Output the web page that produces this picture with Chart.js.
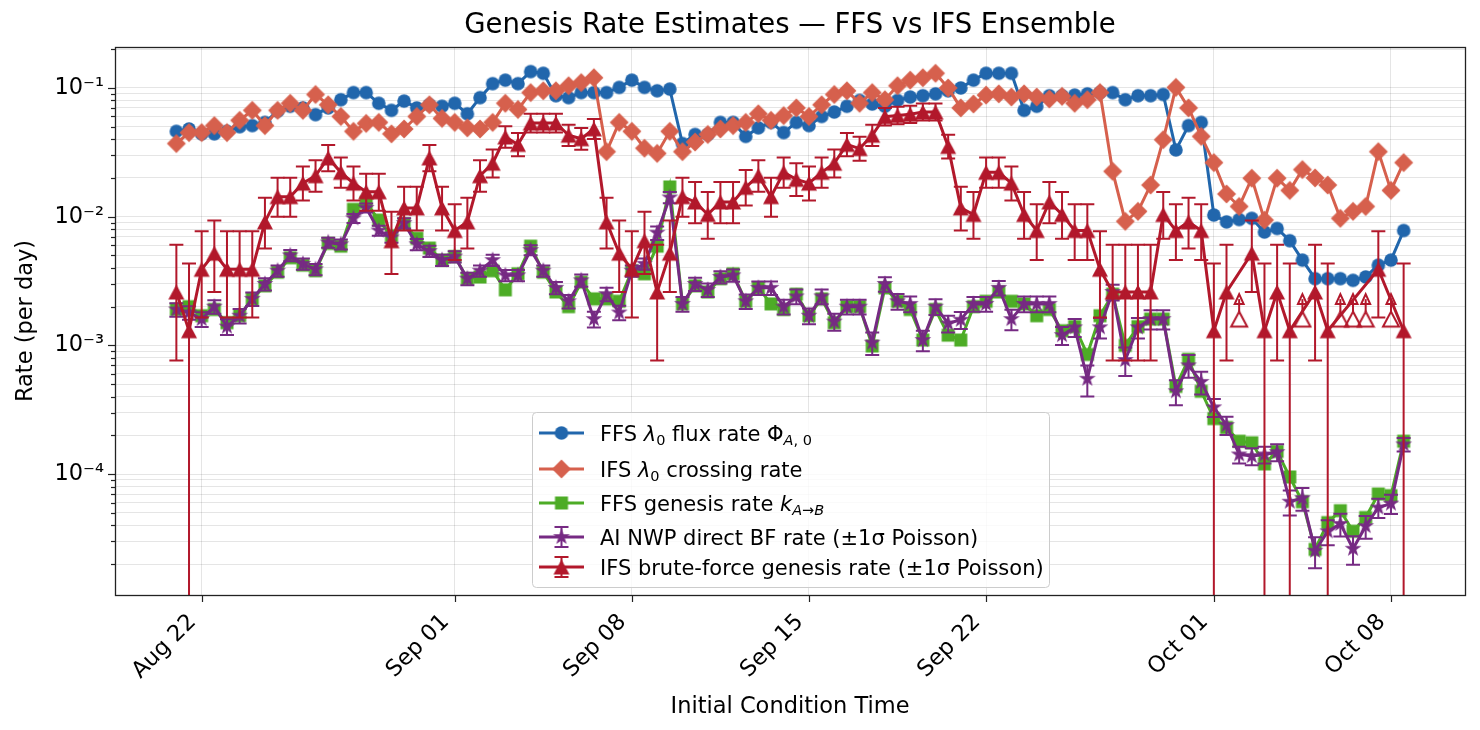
<!DOCTYPE html>
<html><head><meta charset="utf-8">
<script src="https://cdn.jsdelivr.net/npm/chart.js@4.4.1/dist/chart.umd.min.js"></script>
<style>html,body{margin:0;padding:0;background:#fff;}canvas{display:block;}</style>
</head><body>
<canvas id="c" width="1480" height="730"></canvas>
<script>
// ---- data (12-hourly initial conditions, days since Aug 21 00Z) ----
const initDays = Array.from({length: 98}, (_, i) => i * 0.5);
const xTickDays = [1, 11, 18, 25, 32, 41, 48];
const xTickLabels = ['Aug 22', 'Sep 01', 'Sep 08', 'Sep 15', 'Sep 22', 'Oct 01', 'Oct 08'];
const yMajorTicks = [1e-4, 1e-3, 1e-2, 1e-1];
const yMajorLabels = ['10⁻⁴', '10⁻³', '10⁻²', '10⁻¹'];

const ffsFlux = [0.046,0.048,0.044,0.044,0.046,0.05,0.051,0.054,0.066,0.072,0.07,0.062,0.07,0.081,
 0.092,0.092,0.076,0.067,0.079,0.07,0.074,0.072,0.076,0.063,0.084,0.108,0.115,0.108,
 0.134,0.13,0.087,0.084,0.092,0.092,0.092,0.101,0.115,0.101,0.095,0.098,0.037,0.0435,
 0.0435,0.054,0.054,0.042,0.049,0.054,0.045,0.054,0.051,0.06,0.065,0.072,0.08,0.075,
 0.072,0.08,0.085,0.087,0.09,0.095,0.1,0.115,0.13,0.13,0.13,0.067,0.072,0.087,
 0.087,0.088,0.09,0.092,0.092,0.081,0.087,0.087,0.089,0.033,0.051,0.054,0.0103,0.0091,
 0.0095,0.0097,0.0076,0.0081,0.0065,0.0046,0.0033,0.0033,0.0033,0.0032,0.0034,0.0042,0.0046,0.0078];

const ifsCross = [0.037,0.045,0.045,0.051,0.045,0.056,0.067,0.051,0.067,0.076,0.067,0.089,0.074,0.06,
 0.046,0.053,0.054,0.044,0.048,0.06,0.074,0.058,0.054,0.049,0.048,0.054,0.076,0.068,
 0.092,0.095,0.095,0.104,0.11,0.12,0.032,0.054,0.046,0.034,0.031,0.046,0.032,0.038,
 0.0435,0.048,0.051,0.054,0.063,0.056,0.061,0.07,0.06,0.074,0.089,0.095,0.076,0.092,
 0.081,0.104,0.115,0.12,0.13,0.1,0.07,0.075,0.088,0.09,0.085,0.09,0.085,0.082,
 0.086,0.076,0.081,0.092,0.0225,0.0092,0.011,0.0176,0.0396,0.101,0.07,0.042,0.0263,0.015,
 0.012,0.0199,0.0094,0.0199,0.016,0.0232,0.02,0.0176,0.0097,0.011,0.012,0.032,0.016,0.0263];

const ffsGenesis = [0.0019,0.0020,0.0017,0.0019,0.0015,0.0017,0.0023,0.0029,0.0037,0.0048,0.0042,0.0038,0.0062,0.0059,
 0.0114,0.0129,0.0094,0.0071,0.0088,0.0068,0.0057,0.0046,0.0049,0.0033,0.0034,0.0038,0.0027,0.0036,
 0.0059,0.0037,0.0026,0.0020,0.0031,0.0023,0.0023,0.0022,0.0038,0.0036,0.0059,0.017,0.0021,0.0029,
 0.0026,0.0033,0.0036,0.0022,0.0028,0.0021,0.0019,0.0025,0.0017,0.0023,0.0015,0.0020,0.0020,0.00099,
 0.0028,0.0022,0.0019,0.0011,0.0019,0.0012,0.0011,0.0020,0.0022,0.0026,0.0022,0.0021,0.0017,0.0019,
 0.0013,0.0014,0.00085,0.0017,0.0025,0.0010,0.0014,0.0016,0.0016,0.00048,0.00078,0.00044,0.00027,0.00023,
 0.00018,0.000175,0.00012,0.00015,0.000095,0.000061,0.000026,0.000042,0.000052,0.000036,0.000046,0.00007,0.000068,0.00018];

const aiRate = [0.0019,0.0018,0.0016,0.0020,0.0014,0.0017,0.0023,0.0030,0.0038,0.0050,0.0043,0.0039,0.0063,0.0061,
 0.0097,0.0117,0.0078,0.0069,0.0089,0.0061,0.0054,0.0046,0.0049,0.0033,0.0038,0.0046,0.0035,0.0035,
 0.0055,0.0038,0.0028,0.0022,0.0032,0.0016,0.0025,0.0018,0.0038,0.0043,0.0075,0.0141,0.0021,0.0030,
 0.0027,0.0034,0.0035,0.0022,0.0028,0.0028,0.0020,0.0024,0.0017,0.0024,0.00153,0.0020,0.0020,0.00105,
 0.0030,0.0022,0.0021,0.0011,0.0020,0.00148,0.00158,0.0021,0.0021,0.0028,0.0016,0.0021,0.0021,0.0021,
 0.0012,0.00138,0.00055,0.00138,0.0026,0.00077,0.00138,0.0016,0.0016,0.00044,0.0007,0.00052,0.00033,0.00024,
 0.000142,0.000138,0.000142,0.000148,0.000061,0.000065,0.0000254,0.0000359,0.000041,0.0000263,0.0000394,0.000055,0.000059,0.00017];

// relative 1-sigma Poisson error of the AI NWP rate
const aiRelErr = [0.12,0.12,0.13,0.12,0.14,0.13,0.12,0.11,0.1,0.1,0.1,0.1,0.09,0.09,
 0.08,0.08,0.09,0.09,0.09,0.1,0.1,0.1,0.1,0.11,0.1,0.1,0.1,0.1,
 0.09,0.1,0.11,0.12,0.11,0.14,0.12,0.13,0.1,0.1,0.12,0.1,0.13,0.12,
 0.12,0.11,0.11,0.13,0.12,0.12,0.13,0.13,0.14,0.13,0.15,0.13,0.13,0.2,
 0.13,0.14,0.14,0.18,0.14,0.15,0.15,0.13,0.13,0.13,0.18,0.14,0.14,0.14,
 0.16,0.16,0.27,0.18,0.14,0.25,0.18,0.17,0.17,0.22,0.2,0.2,0.16,0.16,
 0.15,0.15,0.15,0.15,0.22,0.2,0.27,0.22,0.2,0.25,0.2,0.17,0.17,0.12];

// IFS brute-force rate (null = zero events, shown as open upper-limit markers)
const ifsRate = [0.0026,0.0013,0.0039,0.0052,0.0039,0.0039,0.0039,0.0091,0.0143,0.0143,0.0182,0.0208,0.0286,0.0221,
 0.0182,0.0156,0.0156,0.0065,0.0117,0.0117,0.0286,0.0117,0.0078,0.0091,0.0208,0.026,0.0416,0.0364,
 0.0533,0.0533,0.0533,0.0429,0.0403,0.0481,0.0091,0.0052,0.0039,0.0065,0.0026,0.0052,0.0143,0.013,
 0.0104,0.013,0.013,0.0169,0.0208,0.0143,0.0221,0.0195,0.0182,0.0221,0.026,0.0364,0.0338,0.0429,
 0.0598,0.0611,0.0624,0.065,0.065,0.0351,0.0117,0.0104,0.0221,0.0221,0.0182,0.0104,0.0078,0.013,
 0.0104,0.0078,0.0078,0.0039,0.0026,0.0026,0.0026,0.0026,0.0104,0.0078,0.0091,0.0078,0.0013,0.0026,
 null,0.0052,0.0013,0.0026,0.0013,null,0.0026,0.0013,null,null,null,0.0039,null,0.0013];
const ifsZeroLimit = [null,null,null,null,null,null,null,null,null,null,null,null,null,null,
 null,null,null,null,null,null,null,null,null,null,null,null,null,null,
 null,null,null,null,null,null,null,null,null,null,null,null,null,null,
 null,null,null,null,null,null,null,null,null,null,null,null,null,null,
 null,null,null,null,null,null,null,null,null,null,null,null,null,null,
 null,null,null,null,null,null,null,null,null,null,null,null,null,null,
 0.0016,null,null,null,null,0.0016,null,null,0.0016,0.0016,0.0016,null,0.0016,null];
const IFS_UNIT_RATE = 0.0013; // rate for one event

// ---- styling ----
const C = {blue:'#2166ac', orange:'#d6604d', green:'#4dac26', purple:'#762a83', red:'#b2182b'};
const FONT = '"DejaVu Sans", "Liberation Sans", sans-serif';

function markerCanvas(size, painter) {
  const c = document.createElement('canvas');
  c.width = size; c.height = size;
  painter(c.getContext('2d'), size / 2);
  return c;
}
const mCircle = markerCanvas(16, (g, m) => { g.fillStyle = C.blue; g.beginPath(); g.arc(m, m, 6.8, 0, Math.PI * 2); g.fill(); });
const mDiamond = markerCanvas(22, (g, m) => { g.fillStyle = C.orange; g.beginPath(); g.moveTo(m, m - 9.5); g.lineTo(m + 9.5, m); g.lineTo(m, m + 9.5); g.lineTo(m - 9.5, m); g.closePath(); g.fill(); });
const mSquare = markerCanvas(16, (g, m) => { g.fillStyle = C.green; g.fillRect(m - 6.5, m - 6.5, 13, 13); });
const mStar = markerCanvas(20, (g, m) => {
  g.fillStyle = C.purple; g.beginPath();
  for (let k = 0; k < 10; k++) {
    const r = k % 2 ? 3.4 : 8.8, a = -Math.PI / 2 + k * Math.PI / 5;
    const px = m + r * Math.cos(a), py = m + r * Math.sin(a);
    k ? g.lineTo(px, py) : g.moveTo(px, py);
  }
  g.closePath(); g.fill();
});
function triPath(g, m) { g.beginPath(); g.moveTo(m, m - 7.5); g.lineTo(m + 8, m + 7.5); g.lineTo(m - 8, m + 7.5); g.closePath(); }
const mTri = markerCanvas(20, (g, m) => { g.fillStyle = C.red; triPath(g, m); g.fill(); });
const mTriOpen = markerCanvas(20, (g, m) => { g.strokeStyle = C.red; g.lineWidth = 2; triPath(g, m); g.stroke(); });

const pts = arr => initDays.map((x, i) => ({x, y: arr[i]}));

// error bounds
const aiLo = aiRate.map((v, i) => v * (1 - aiRelErr[i]));
const aiHi = aiRate.map((v, i) => v * (1 + aiRelErr[i]));
const ifsN = ifsRate.map(v => v == null ? null : Math.max(1, Math.round(v / IFS_UNIT_RATE)));
const ifsLo = ifsRate.map((v, i) => v == null ? null : v * (1 - 1 / Math.sqrt(ifsN[i])));
const ifsHi = ifsRate.map((v, i) => v == null ? null : v * (1 + (1 + Math.sqrt(ifsN[i] + 0.75)) / ifsN[i]));

const base = {borderWidth: 3, pointRadius: 7, pointHoverRadius: 7, tension: 0, spanGaps: true, fill: false};
const datasets = [
  {...base, label: 'FFS λ0 flux rate ΦA,0', data: pts(ffsFlux), borderColor: C.blue, backgroundColor: C.blue, pointStyle: mCircle, order: 6},
  {...base, label: 'IFS λ0 crossing rate', data: pts(ifsCross), borderColor: C.orange, backgroundColor: C.orange, pointStyle: mDiamond, order: 5},
  {...base, label: 'FFS genesis rate kA→B', data: pts(ffsGenesis), borderColor: C.green, backgroundColor: C.green, pointStyle: mSquare, order: 4},
  {...base, label: 'AI NWP direct BF rate (±1σ Poisson)', data: pts(aiRate), borderColor: C.purple, backgroundColor: C.purple, pointStyle: mStar, order: 3, errLo: aiLo, errHi: aiHi},
  {...base, label: 'IFS brute-force zero events', data: pts(ifsZeroLimit), showLine: false, borderColor: C.red, backgroundColor: C.red, pointStyle: mTriOpen, order: 2, upLimit: true},
  {...base, label: 'IFS brute-force genesis rate (±1σ Poisson)', data: pts(ifsRate), borderColor: C.red, backgroundColor: C.red, pointStyle: mTri, order: 1, errLo: ifsLo, errHi: ifsHi}
];

const errorBarPlugin = {
  id: 'errbars',
  afterDatasetDraw(chart, args) {
    const ds = chart.data.datasets[args.index];
    const ctx = chart.ctx, xs = chart.scales.x, ys = chart.scales.y, a = chart.chartArea;
    if (!ds.errLo && !ds.upLimit) return;
    ctx.save();
    ctx.beginPath(); ctx.rect(a.left, a.top, a.right - a.left, a.bottom - a.top); ctx.clip();
    ctx.strokeStyle = ds.borderColor; ctx.lineWidth = 2; ctx.lineCap = 'butt';
    const cap = 7;
    ds.data.forEach((p, i) => {
      if (p.y == null) return;
      const x = xs.getPixelForValue(p.x);
      if (ds.upLimit) {
        const y = ys.getPixelForValue(p.y);
        ctx.beginPath(); ctx.moveTo(x, y - 7); ctx.lineTo(x, y - 20); ctx.stroke();
        ctx.beginPath(); ctx.moveTo(x, y - 25); ctx.lineTo(x + 4.5, y - 15); ctx.lineTo(x - 4.5, y - 15); ctx.closePath(); ctx.stroke();
        return;
      }
      const lo = ds.errLo[i], hi = ds.errHi[i];
      const yHi = ys.getPixelForValue(hi);
      const yLo = lo > 0 ? ys.getPixelForValue(lo) : a.bottom + 10;
      ctx.beginPath();
      ctx.moveTo(x, yHi); ctx.lineTo(x, yLo);
      ctx.moveTo(x - cap, yHi); ctx.lineTo(x + cap, yHi);
      if (lo > 0) { ctx.moveTo(x - cap, yLo); ctx.lineTo(x + cap, yLo); }
      ctx.stroke();
    });
    ctx.restore();
  }
};

const legendRows = [
  {y: 433, color: C.blue, marker: mCircle, err: false, parts: [{t: 'FFS '}, {t: 'λ', it: 1}, {t: '0', sub: 1}, {t: ' flux rate Φ'}, {t: 'A', it: 1, sub: 1}, {t: ', 0', sub: 1}]},
  {y: 469, color: C.orange, marker: mDiamond, err: false, parts: [{t: 'IFS '}, {t: 'λ', it: 1}, {t: '0', sub: 1}, {t: ' crossing rate'}]},
  {y: 503, color: C.green, marker: mSquare, err: false, parts: [{t: 'FFS genesis rate '}, {t: 'k', it: 1}, {t: 'A', it: 1, sub: 1}, {t: '→', sub: 1}, {t: 'B', it: 1, sub: 1}]},
  {y: 537, color: C.purple, marker: mStar, err: true, parts: [{t: 'AI NWP direct BF rate (±1σ Poisson)'}]},
  {y: 567, color: C.red, marker: mTri, err: true, parts: [{t: 'IFS brute-force genesis rate (±1σ Poisson)'}]}
];

const framePlugin = {
  id: 'frame',
  afterDraw(chart) {
    const ctx = chart.ctx, a = chart.chartArea, xs = chart.scales.x, ys = chart.scales.y;
    ctx.save();
    ctx.strokeStyle = '#222'; ctx.lineWidth = 1.2;
    ys.ticks.forEach(t => {
      const y = Math.round(ys.getPixelForValue(t.value)) + 0.5;
      const len = t.major ? 7 : 4;
      ctx.beginPath(); ctx.moveTo(a.left - len, y); ctx.lineTo(a.left, y); ctx.stroke();
    });
    xs.ticks.forEach(t => {
      const x = Math.round(xs.getPixelForValue(t.value)) + 0.5;
      ctx.beginPath(); ctx.moveTo(x, a.bottom); ctx.lineTo(x, a.bottom + 7); ctx.stroke();
    });
    ctx.strokeStyle = '#222'; ctx.lineWidth = 1.3;
    ctx.strokeRect(Math.round(a.left) + 0.5, Math.round(a.top) + 0.5, Math.round(a.right - a.left), Math.round(a.bottom - a.top));
    // legend
    const L = {x0: 532, y0: 412, x1: 1049, y1: 587};
    ctx.beginPath();
    if (ctx.roundRect) ctx.roundRect(L.x0 + 0.5, L.y0 + 0.5, L.x1 - L.x0, L.y1 - L.y0, 4); else ctx.rect(L.x0 + 0.5, L.y0 + 0.5, L.x1 - L.x0, L.y1 - L.y0);
    ctx.fillStyle = 'rgba(255,255,255,0.8)'; ctx.fill();
    ctx.strokeStyle = '#cccccc'; ctx.lineWidth = 1; ctx.stroke();
    const size = 21;
    legendRows.forEach(r => {
      ctx.strokeStyle = r.color; ctx.lineWidth = 3;
      ctx.beginPath(); ctx.moveTo(539, r.y); ctx.lineTo(584, r.y); ctx.stroke();
      if (r.err) {
        ctx.lineWidth = 2;
        ctx.beginPath(); ctx.moveTo(561.5, r.y - 10); ctx.lineTo(561.5, r.y + 10);
        ctx.moveTo(554.5, r.y - 10); ctx.lineTo(568.5, r.y - 10);
        ctx.moveTo(554.5, r.y + 10); ctx.lineTo(568.5, r.y + 10); ctx.stroke();
      }
      ctx.drawImage(r.marker, 561.5 - r.marker.width / 2, r.y - r.marker.height / 2);
      let x = 600;
      ctx.fillStyle = '#000'; ctx.textBaseline = 'alphabetic'; ctx.textAlign = 'left';
      r.parts.forEach(p => {
        const fs = p.sub ? 14.5 : size;
        ctx.font = (p.it ? 'italic ' : '') + fs + 'px ' + FONT;
        ctx.fillText(p.t, x, r.y + 7.5 + (p.sub ? 4 : 0));
        x += ctx.measureText(p.t).width;
      });
    });
    ctx.restore();
  }
};

const gridColor = 'rgba(0,0,0,0.1)';
new Chart(document.getElementById('c'), {
  type: 'line',
  data: {datasets},
  options: {
    responsive: false, animation: false, devicePixelRatio: 1,
    layout: {padding: {left: 0, right: 15, top: 0, bottom: 0}},
    plugins: {
      legend: {display: false}, tooltip: {enabled: false},
      title: {display: true, fullSize: false, text: 'Genesis Rate Estimates — FFS vs IFS Ensemble', color: '#000',
        font: {family: FONT, size: 27.5, weight: 'normal'}, padding: {top: 9.5, bottom: 4.5}}
    },
    scales: {
      x: {
        type: 'linear', min: -2.425, max: 50.925,
        afterBuildTicks: s => { s.ticks = xTickDays.map(v => ({value: v, major: true})); },
        afterFit: s => { s.height = 135; },
        ticks: {autoSkip: false, minRotation: 45, maxRotation: 45, padding: 14, labelOffset: -9, color: '#000',
          font: {family: FONT, size: 22.5},
          callback: v => { const k = xTickDays.indexOf(v); return k >= 0 ? xTickLabels[k] : ''; }},
        grid: {color: gridColor, lineWidth: 1, drawTicks: false},
        border: {display: false},
        title: {display: true, text: 'Initial Condition Time', color: '#000', font: {family: FONT, size: 22.5}, padding: {top: 0, bottom: 9.5}}
      },
      y: {
        type: 'logarithmic', min: 1.15e-5, max: 0.208,
        afterBuildTicks: s => {
          const t = [];
          for (let e = -5; e <= -1; e++) for (let m = 1; m <= 9; m++) {
            const v = m * Math.pow(10, e);
            if (v >= s.min && v <= s.max) t.push({value: v, major: m === 1});
          }
          s.ticks = t;
        },
        afterFit: s => { s.width = 115; },
        ticks: {autoSkip: false, padding: 11, color: '#000', font: {family: FONT, size: 22.5},
          callback: v => { const k = yMajorTicks.findIndex(m => Math.abs(v / m - 1) < 1e-6); return k >= 0 ? yMajorLabels[k] : ''; }},
        grid: {color: gridColor, lineWidth: 1, drawTicks: false},
        border: {display: false},
        title: {display: true, text: 'Rate (per day)', color: '#000', font: {family: FONT, size: 22.5}, padding: {top: 12.5, bottom: 0}}
      }
    }
  },
  plugins: [errorBarPlugin, framePlugin]
});
</script>
</body></html>
